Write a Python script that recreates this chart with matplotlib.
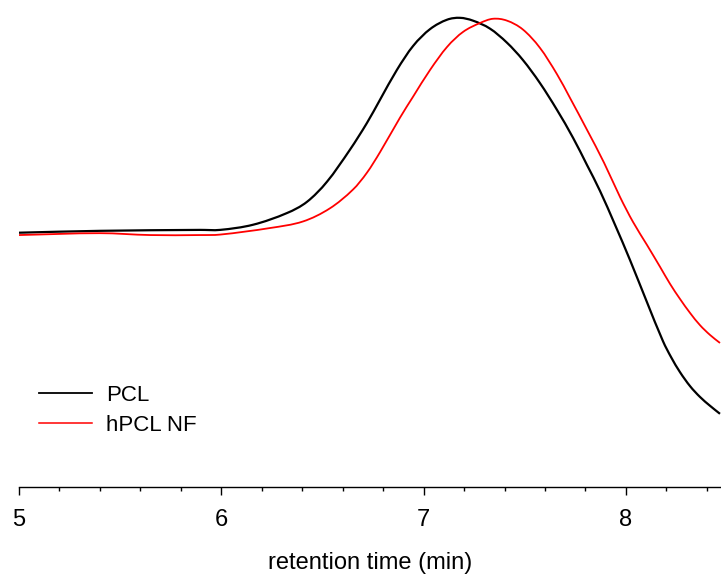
import matplotlib
matplotlib.use("Agg")
import matplotlib.pyplot as plt
from matplotlib.ticker import MultipleLocator
from matplotlib.path import Path
from matplotlib.patches import PathPatch
from matplotlib.lines import Line2D

plt.rcParams['font.family'] = ['Liberation Sans', 'DejaVu Sans']

# relative detector response (peak = 1) vs retention time (min)
t_pcl = [5.000, 5.400, 5.895, 5.994, 6.157, 6.325, 6.424, 6.523, 6.636, 6.720, 6.784,
         6.868, 6.948, 7.032, 7.116, 7.180, 7.244, 7.328, 7.412, 7.491, 7.575, 7.659,
         7.739, 7.808, 7.872, 7.946, 8.020, 8.104, 8.183, 8.223, 8.267, 8.317, 8.366,
         8.416, 8.465]
r_pcl = [0.542, 0.546, 0.548, 0.548, 0.559, 0.584, 0.608, 0.651, 0.719, 0.776, 0.825,
         0.889, 0.940, 0.976, 0.996, 1.000, 0.994, 0.977, 0.947, 0.910, 0.861, 0.804,
         0.744, 0.686, 0.631, 0.559, 0.484, 0.394, 0.311, 0.277, 0.245, 0.215, 0.192,
         0.173, 0.156]

t_hpcl = [5.000, 5.400, 5.648, 5.895, 5.994, 6.241, 6.404, 6.537, 6.651, 6.720, 6.785,
          6.883, 6.948, 7.032, 7.116, 7.195, 7.279, 7.343, 7.412, 7.491, 7.575, 7.659,
          7.724, 7.808, 7.892, 7.971, 8.035, 8.104, 8.169, 8.218, 8.267, 8.317, 8.366,
          8.416, 8.465]
r_hpcl = [0.537, 0.541, 0.537, 0.537, 0.538, 0.552, 0.566, 0.594, 0.634, 0.670, 0.714,
          0.787, 0.832, 0.889, 0.938, 0.970, 0.989, 0.998, 0.994, 0.975, 0.936, 0.880,
          0.829, 0.761, 0.691, 0.618, 0.565, 0.516, 0.469, 0.433, 0.401, 0.371, 0.345,
          0.324, 0.307]


def smooth_path(x, y):
    # cubic bezier through the read points (tangent from neighbours)
    n = len(x)
    m = []
    for i in range(n):
        a, b = max(i - 1, 0), min(i + 1, n - 1)
        m.append((y[b] - y[a]) / (x[b] - x[a]))
    verts = [(x[0], y[0])]
    codes = [Path.MOVETO]
    for i in range(n - 1):
        h = (x[i + 1] - x[i]) / 3
        verts += [(x[i] + h, y[i] + m[i] * h),
                  (x[i + 1] - h, y[i + 1] - m[i + 1] * h),
                  (x[i + 1], y[i + 1])]
        codes += [Path.CURVE4] * 3
    return Path(verts, codes)


fig = plt.figure(figsize=(7.21, 5.76), dpi=100)
ax = fig.add_axes([19 / 721, 89 / 576, 1 - 19 / 721, 487 / 576])

ax.add_patch(PathPatch(smooth_path(t_pcl, r_pcl), fill=False, ec='black', lw=1.6))
ax.add_patch(PathPatch(smooth_path(t_hpcl, r_hpcl), fill=False, ec='#ff0000', lw=1.3))

ax.set_xlim(5, 8.47)
ax.set_ylim(0, 1.038)

for s in ['top', 'right', 'left']:
    ax.spines[s].set_visible(False)
ax.spines['bottom'].set_linewidth(1.0)
ax.set_yticks([])
ax.xaxis.set_major_locator(MultipleLocator(1))
ax.xaxis.set_minor_locator(MultipleLocator(0.2))
ax.tick_params(axis='x', which='major', length=6, width=1, labelsize=17, pad=10)
ax.tick_params(axis='x', which='minor', length=3, width=1)
ax.set_xlabel('retention time (min)', fontsize=17, labelpad=15)

handles = [Line2D([], [], color='black', lw=1.3), Line2D([], [], color='#ff0000', lw=1.1)]
ax.legend(handles, ['PCL', 'hPCL NF'], frameon=False, loc='upper left',
          bbox_to_anchor=(0.0, 0.25), fontsize=16, handlelength=2.4,
          handletextpad=0.6, labelspacing=0.4)

fig.savefig('out.png', dpi=100)
